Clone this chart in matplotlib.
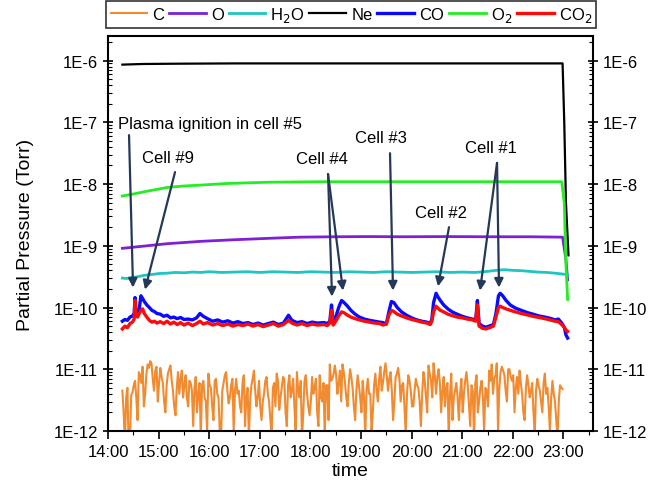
import numpy as np
import matplotlib
matplotlib.use('Agg')
import matplotlib.pyplot as plt
from matplotlib.ticker import FixedLocator, LogLocator, MultipleLocator, NullFormatter

plt.rcParams['font.family'] = ['Liberation Sans', 'DejaVu Sans']

# time in minutes after 14:00
c_t = np.arange(17, 540, 3)
c_e12 = [4.5, 0.6, 5.0, 0.7, 4.2,
         6.5, 1.5, 8.0, 11.0, 4.0, 12.0, 13.5, 7.0, 9.5, 3.0,
         10.5, 6.0, 2.0, 8.5, 11.5, 4.5, 1.8, 9.0, 7.0, 3.5,
         8.0, 2.5, 6.0, 1.2, 7.5, 4.0, 0.8, 6.5, 3.0, 8.5,
         5.0, 1.5, 7.0, 3.5, 0.7, 6.0, 9.0, 2.8, 5.5, 1.0,
         7.0, 4.5, 2.0, 8.0, 3.5, 0.8, 5.5, 9.5, 2.5, 6.5,
         1.5, 4.0, 7.5, 3.0, 0.9, 6.0, 8.5, 2.2, 5.0, 7.0,
         1.2, 8.0, 4.5, 2.5, 9.0, 3.5, 0.7, 6.5, 4.0, 1.8,
         7.5, 5.0, 2.0, 8.0, 3.0, 0.8, 5.5, 12.0, 7.0, 11.5,
         4.0, 9.5, 12.0, 6.0, 2.5, 10.0, 5.0, 1.5, 8.0, 3.5,
         6.5, 0.8, 7.0, 4.0, 2.0, 8.5, 3.0, 11.0, 6.0, 12.5,
         4.5, 9.0, 1.5, 7.5, 10.5, 3.0, 6.0, 0.9, 8.0, 4.5,
         2.5, 7.0, 5.0, 1.2, 9.0, 3.5, 11.5, 6.5, 12.5, 4.0,
         10.0, 2.0, 7.5, 5.0, 0.8, 8.5, 3.5, 6.0, 1.5, 7.0,
         4.0, 9.0, 2.5, 5.5, 0.7, 8.0, 3.0, 6.5, 1.0, 4.5,
         9.5, 12.0, 7.0, 12.5, 5.0, 11.0, 8.0, 3.0, 10.0, 6.5,
         2.0, 7.5, 9.5, 4.0, 1.5, 8.0, 3.5, 6.0, 0.9, 7.0,
         4.5, 2.0, 8.5, 5.0, 1.0, 6.5, 3.0, 0.8, 5.5, 4.8]
# readings in between the ones above
c_t_mid = np.arange(18.5, 539, 3)
c_e12_mid = [2.0, 3.5, 0.5, 3.8, 5.5,
             3.5, 9.0, 6.0, 2.5, 8.5, 10.5, 12.5, 4.5, 11.0, 6.0,
             7.5, 3.0, 5.5, 10.0, 6.5, 2.5, 5.0, 4.0, 9.5, 5.5,
             3.5, 6.5, 4.5, 5.0, 2.0, 6.0, 5.5, 3.5, 1.0, 5.5,
             2.5, 6.5, 4.0, 1.0, 4.5, 8.0, 4.5, 3.5, 7.0, 4.5,
             4.0, 2.5, 6.0, 1.2, 5.0, 3.0, 7.0, 4.5, 3.5, 2.5,
             3.0, 6.5, 4.0, 1.5, 5.0, 2.5, 6.5, 3.5, 7.5, 2.0,
             5.5, 3.5, 7.0, 1.0, 4.5, 6.5, 2.0, 8.0, 2.5, 3.0,
             4.0, 7.0, 1.2, 3.5, 6.0, 5.5, 1.5, 6.5, 8.5, 8.0,
             6.0, 3.0, 9.0, 3.5, 6.0, 7.5, 2.5, 4.5, 5.5, 2.0,
             3.5, 4.5, 4.0, 1.0, 5.5, 4.5, 7.0, 4.5, 9.0, 8.0,
             7.0, 4.5, 3.0, 8.5, 7.0, 5.5, 2.5, 4.0, 6.5, 2.5,
             4.5, 5.5, 3.0, 4.0, 6.5, 2.0, 8.5, 3.5, 8.0, 7.5,
             6.0, 4.5, 2.5, 6.0, 4.0, 1.5, 4.5, 3.5, 4.0, 2.0,
             6.5, 5.5, 1.2, 4.5, 6.0, 2.0, 5.0, 3.5, 5.0, 2.5,
             6.5, 4.0, 8.0, 1.0, 9.0, 9.5, 4.5, 10.0, 7.5, 8.0,
             5.0, 4.0, 6.0, 2.0, 5.0, 5.5, 4.5, 2.0, 4.5, 5.5,
             3.0, 6.0, 4.0, 2.5, 3.5, 4.0, 1.5, 3.0, 5.0]

o_t = [17, 40, 70, 110, 148, 190, 228, 270, 307, 350, 400, 450, 500, 539, 543, 545]
o_e9 = [0.91, 0.98, 1.08, 1.18, 1.25, 1.32, 1.38, 1.40, 1.41, 1.40, 1.41, 1.40, 1.40, 1.38, 0.6, 0.28]

h2o_t = [17, 22, 27, 32, 37, 42, 48, 54, 60, 70, 80, 90, 100, 110, 120, 135, 150, 165,
         180, 195, 210, 225, 240, 255, 270, 285, 300, 315, 330, 345, 360, 375, 390, 405,
         420, 435, 450, 460, 470, 480, 490, 500, 510, 520, 530, 538, 545]
h2o_e10 = [3.0, 2.95, 3.05, 3.1, 3.2, 3.3, 3.4, 3.45, 3.55, 3.6, 3.7, 3.65, 3.75, 3.7, 3.8,
           3.7, 3.75, 3.8, 3.7, 3.8, 3.75, 3.7, 3.8, 3.75, 3.7, 3.8, 3.75, 3.7, 3.8, 3.75,
           3.7, 3.75, 3.8, 3.7, 3.75, 3.7, 3.85, 4.0, 4.1, 4.0, 3.95, 3.85, 3.75, 3.7, 3.6,
           3.5, 3.4]

ne_t = [17, 40, 80, 150, 250, 350, 450, 539, 541, 543, 546]
ne_e7 = [8.6, 8.8, 8.9, 9.0, 9.0, 9.0, 9.0, 9.0, 1.0, 0.05, 0.007]

co_t = [17, 20, 23, 26, 29, 31, 32, 33, 35, 37, 39, 41, 43, 46, 49, 52, 55, 58, 62, 66,
        70, 74, 78, 82, 86, 90, 95, 100, 105, 109, 113, 118, 124, 130, 136, 142, 148, 154,
        160, 166, 172, 178, 184, 190, 196, 202, 208, 214, 218, 224, 230, 236, 242, 248,
        256, 260, 263, 265, 267, 270, 274, 277, 280, 284, 288, 293, 298, 304, 310, 316,
        322, 326, 330, 333, 336, 339, 343, 348, 354, 360, 366, 372, 378, 382, 384, 386,
        389, 391, 394, 398, 403, 408, 414, 420, 426, 432, 436, 438, 440, 444, 448, 452,
        457, 460, 463, 465, 468, 472, 477, 483, 490, 497, 504, 511, 518, 524, 530, 534,
        538, 541, 543, 545]
co_e11 = [6.0, 6.4, 6.2, 7.0, 7.3, 8.0, 14.5, 9.0, 8.3, 9.5, 15.5, 14.0, 12.5, 11.0, 10.0,
          9.0, 8.6, 8.0, 7.8, 7.2, 7.5, 6.8, 7.0, 6.6, 6.9, 6.4, 6.5, 6.3, 6.8, 8.0, 7.2,
          6.6, 6.0, 6.3, 5.8, 6.1, 5.6, 5.9, 5.5, 5.7, 5.3, 5.6, 5.2, 5.5, 5.8, 5.3, 5.6,
          7.5, 6.2, 5.7, 5.9, 5.5, 5.8, 5.6, 5.7, 5.5, 6.0, 11.0, 5.5, 7.0, 10.5, 13.0,
          12.0, 10.5, 9.0, 7.8, 7.0, 6.5, 6.2, 6.0, 5.8, 5.7, 5.4, 8.5, 12.5, 12.0, 10.0,
          8.5, 7.5, 6.8, 6.3, 6.0, 5.8, 5.5, 6.5, 12.0, 17.0, 15.0, 13.0, 11.0, 9.5, 8.5,
          7.8, 7.2, 6.8, 6.5, 6.3, 13.0, 5.5, 5.0, 4.8, 5.0, 5.3, 8.0, 15.5, 17.0, 15.5,
          13.0, 11.0, 9.8, 9.0, 8.3, 7.8, 7.3, 7.0, 6.7, 6.3, 6.5, 5.6, 4.8, 3.6, 3.2]

co2_e11 = [4.5, 5.0, 4.7, 5.5, 5.8, 6.5, 13.0, 7.5, 7.0, 8.0, 9.0, 9.5, 8.0, 7.0, 6.2,
           5.8, 6.0, 5.6, 5.9, 5.5, 6.0, 5.4, 5.8, 5.3, 5.7, 5.2, 5.6, 5.1, 5.5, 6.0, 5.4,
           5.7, 5.2, 5.5, 5.1, 5.4, 5.0, 5.3, 5.1, 5.4, 5.0, 5.3, 4.9, 5.2, 5.5, 5.0, 5.3,
           6.2, 5.6, 5.2, 5.5, 5.1, 5.4, 5.2, 5.3, 5.1, 5.6, 9.0, 5.2, 6.0, 7.5, 8.5, 8.2,
           7.5, 7.0, 6.6, 6.3, 6.0, 5.8, 5.6, 5.5, 5.2, 5.4, 7.5, 9.0, 8.6, 7.8, 7.3, 6.8,
           6.4, 6.1, 5.8, 5.6, 5.3, 6.0, 8.5, 10.5, 9.8, 9.0, 8.5, 7.8, 7.4, 7.0, 6.8, 6.5,
           6.3, 6.0, 11.0, 5.0, 4.6, 4.5, 4.7, 5.0, 7.0, 10.0, 10.5, 10.0, 9.5, 9.0, 8.5,
           8.0, 7.6, 7.2, 6.9, 6.6, 6.3, 6.0, 5.9, 5.3, 4.8, 4.3, 4.1]

o2_t = [17, 30, 45, 70, 90, 109, 140, 189, 250, 346, 450, 538, 541, 543, 545]
o2_e8 = [0.64, 0.69, 0.76, 0.88, 0.93, 0.96, 1.02, 1.07, 1.09, 1.09, 1.09, 1.09, 0.5, 0.05, 0.0135]

hour_ticks = [14, 15, 16, 17, 18, 19, 20, 21, 22, 23]
hour_labels = ['14:00', '15:00', '16:00', '17:00', '18:00', '19:00', '20:00', '21:00', '22:00', '23:00']
y_ticks = [1e-12, 1e-11, 1e-10, 1e-9, 1e-8, 1e-7, 1e-6]
y_labels = ['1E-12', '1E-11', '1E-10', '1E-9', '1E-8', '1E-7', '1E-6']

# (label, text pos, list of (tail, tip)), time in hours, pressure in Torr
notes = [
    ('Plasma ignition in cell #5', (16.02, 9.6e-8), [((14.415, 6.2e-8), (14.494, 2.1e-10))]),
    ('Cell #9', (15.19, 2.7e-8), [((15.324, 1.56e-8), (14.731, 1.95e-10))]),
    ('Cell #4', (18.23, 2.6e-8), [((18.348, 1.45e-8), (18.427, 1.5e-10)),
                                  ((18.348, 1.45e-8), (18.644, 1.88e-10))]),
    ('Cell #3', (19.40, 5.7e-8), [((19.573, 3.16e-8), (19.632, 1.88e-10))]),
    ('Cell #2', (20.58, 3.5e-9), [((20.739, 2.0e-9), (20.522, 2.2e-10))]),
    ('Cell #1', (21.57, 3.95e-8), [((21.688, 2.2e-8), (21.352, 1.88e-10)),
                                   ((21.688, 2.2e-8), (21.727, 2.1e-10))]),
]

def hrs(m):
    return 14. + np.asarray(m) / 60.

c_all_t = np.concatenate([c_t, c_t_mid])
c_all = np.concatenate([c_e12, c_e12_mid])
order = np.argsort(c_all_t)

fig = plt.figure(figsize=(6.64, 4.89), dpi=100)
ax = fig.add_axes([0.1627, 0.1166, 0.7304, 0.8077])

ax.plot(hrs(c_all_t[order]), c_all[order] * 1e-12, color='#f28a30', lw=1.5, label='C')
ax.plot(hrs(o_t), np.array(o_e9) * 1e-9, color='#7f1fd6', lw=2, label='O')
ax.plot(hrs(h2o_t), np.array(h2o_e10) * 1e-10, color='#1fc4c4', lw=2, label='H$_2$O')
ax.plot(hrs(ne_t), np.array(ne_e7) * 1e-7, color='black', lw=1.6, label='Ne')
ax.plot(hrs(co_t), np.array(co_e11) * 1e-11, color='#0a0aff', lw=2.4, label='CO')
ax.plot(hrs(o2_t), np.array(o2_e8) * 1e-8, color='#22ee22', lw=2, label='O$_2$')
ax.plot(hrs(co_t), np.array(co2_e11) * 1e-11, color='#ff0a0a', lw=2.4, label='CO$_2$')

ax.set_yscale('log')
ax.set_ylim(1e-12, 2.5e-6)
ax.set_xlim(14, 23.585)

ax.xaxis.set_major_locator(FixedLocator(hour_ticks))
ax.set_xticklabels(hour_labels)
ax.xaxis.set_minor_locator(MultipleLocator(0.5))
ax.yaxis.set_major_locator(FixedLocator(y_ticks))
ax.set_yticklabels(y_labels)
ax.yaxis.set_minor_locator(LogLocator(base=10, subs=np.arange(2, 10)))
ax.yaxis.set_minor_formatter(NullFormatter())

ax.tick_params(axis='y', which='both', right=True, labelright=True, labelsize=12)
ax.tick_params(axis='y', which='major', direction='inout', length=7, width=1.2)
ax.tick_params(axis='y', which='minor', direction='in', length=3, width=0.8)
ax.tick_params(axis='x', which='major', direction='out', length=6, width=1.2, labelsize=12)
ax.tick_params(axis='x', which='minor', direction='out', length=3, width=0.8)
for s in ax.spines.values():
    s.set_linewidth(1.5)

ax.set_xlabel('time', fontsize=14, labelpad=2)
ax.set_ylabel('Partial Pressure (Torr)', fontsize=14, labelpad=14)

arrow_col = '#26385a'
for label, pos, arrows in notes:
    ax.text(pos[0], pos[1], label, fontsize=12, ha='center', va='center')
    for tail, tip in arrows:
        ax.annotate('', xy=tip, xytext=tail,
                    arrowprops=dict(arrowstyle='-|>', color=arrow_col, lw=1.6,
                                    mutation_scale=13, shrinkA=0, shrinkB=0))

leg = fig.legend(loc='center', bbox_to_anchor=(0.529, 0.968), ncol=7, fontsize=12,
                 frameon=True, fancybox=False, edgecolor='black', handlelength=2.2,
                 handletextpad=0.3, columnspacing=0.3, borderpad=0.25, borderaxespad=0)
leg.get_frame().set_linewidth(1.2)

fig.savefig('out.png', dpi=100)
